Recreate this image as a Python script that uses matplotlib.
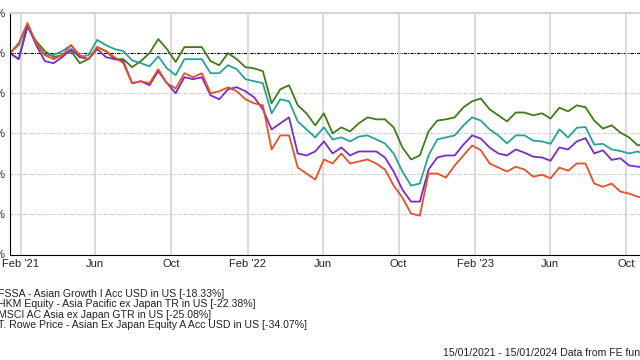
import matplotlib
matplotlib.use("Agg")
import matplotlib.pyplot as plt
import matplotlib.dates as mdates
import pandas as pd

plt.rcParams['font.family'] = ['Liberation Sans Narrow', 'Liberation Sans', 'DejaVu Sans']

# fortnightly points (% growth since 15/01/2021)
dates = pd.date_range('2021-01-15', periods=79, freq='14D')

fssa = [0, -1.5, 6.5, 3.0, 0.5, -1.0, -0.5, 0.5, -2.5, -1.5,
        1.5, 0.5, -1.5, -1.5, -3.5, -2.0, 0.0, 3.5, 1.0, -2.2,
        1.5, 1.5, 1.5, -2.0, -3.0, 0.0, -1.5, -3.5, -3.8, -4.5,
        -12.5, -9.0, -8.0, -13.0, -15.0, -18.0, -15.0, -20.0, -18.5, -19.5,
        -17.5, -16.0, -16.5, -16.5, -18.5, -23.5, -26.5, -25.5, -19.5, -16.8,
        -16.5, -16.0, -13.5, -12.0, -11.3, -14.0, -15.5, -17.0, -14.8, -14.8,
        -15.5, -15.0, -16.3, -13.6, -14.5, -13.0, -13.5, -16.8, -18.8, -18.0,
        -19.8, -21.0, -23.0, -22.5, -21.5, -20.0, -18.5, -17.5, -18.33]
hkm = [0, 2.0, 7.0, 2.5, -0.5, -0.5, 0.5, 2.0, -1.0, -0.5,
       3.3, 2.0, 1.0, 0.5, -1.8, -2.5, -3.3, -0.8, -3.8, -5.5,
       -1.5, -1.5, -1.5, -5.0, -5.0, -3.0, -4.0, -6.5, -7.0, -7.5,
       -15.0, -11.5, -12.0, -17.0, -19.0, -21.0, -18.5, -21.5, -21.0, -22.0,
       -20.8, -20.5, -21.5, -22.5, -25.0, -29.5, -33.0, -32.5, -25.5, -21.5,
       -21.0, -20.5, -18.0, -16.0, -16.8, -19.0, -20.5, -22.5, -20.5, -20.5,
       -21.8, -22.0, -22.6, -19.0, -21.0, -18.6, -18.4, -22.8, -22.6, -24.0,
       -24.4, -25.0, -24.5, -25.5, -25.0, -24.0, -22.5, -21.8, -22.38]
msci = [0, -1.5, 7.0, 2.0, -2.0, -2.5, -1.0, 1.0, -1.0, -1.5,
        1.0, -1.0, -1.5, -2.0, -7.5, -7.0, -8.0, -4.5, -7.5, -10.0,
        -6.0, -6.5, -6.0, -10.5, -11.5, -9.0, -8.5, -9.5, -11.0, -14.0,
        -19.0, -17.5, -16.0, -25.0, -25.5, -24.5, -22.0, -25.0, -23.5, -25.5,
        -24.5, -24.5, -24.5, -26.0, -29.5, -34.0, -37.0, -37.0, -29.0, -26.0,
        -25.5, -25.5, -22.8, -20.5, -21.3, -23.5, -25.0, -25.5, -24.0, -24.8,
        -25.8, -26.0, -26.8, -23.5, -24.0, -22.0, -21.2, -25.0, -24.2, -26.6,
        -26.2, -28.0, -28.3, -28.5, -28.0, -27.0, -25.5, -24.5, -25.08]
trowe = [0, 2.5, 7.5, 2.5, -0.5, -1.5, -0.5, 2.0, -0.5, -1.5,
         1.5, 0.5, -1.0, -2.5, -7.5, -7.0, -7.5, -4.0, -7.5, -8.8,
         -5.0, -6.0, -5.0, -10.0, -9.5, -8.5, -9.5, -11.5, -12.5, -13.0,
         -24.0, -20.5, -20.5, -28.5, -30.0, -31.5, -26.5, -27.5, -25.0, -27.5,
         -27.0, -26.5, -27.5, -29.0, -33.0, -36.0, -40.0, -40.5, -30.0, -30.0,
         -31.0, -28.0, -25.5, -23.0, -24.2, -27.5, -28.5, -29.5, -28.3, -29.0,
         -30.8, -30.3, -31.2, -28.5, -29.3, -27.5, -27.5, -32.5, -33.3, -32.5,
         -34.5, -35.0, -35.8, -36.0, -35.5, -35.0, -34.0, -33.5, -34.07]

names = ["FSSA - Asian Growth I Acc USD in US [-18.33%]",
         "HKM Equity - Asia Pacific ex Japan TR in US [-22.38%]",
         "MSCI AC Asia ex Japan GTR in US [-25.08%]",
         "T. Rowe Price - Asian Ex Japan Equity A Acc USD in US [-34.07%]"]
colors = ['#3f7c16', '#27a395', '#7b2cc6', '#e8502a']
yticks = [10, 0, -10, -20, -30, -40, -50]

fig = plt.figure(figsize=(6.4, 3.6), dpi=100)
# chart is wider than the picture: right part is cut off like the original
ax = fig.add_axes([10 / 640, 105 / 360, 682 / 640, 242 / 360])

for vals, c in zip([fssa, hkm, msci, trowe], colors):
    ax.plot(dates, vals, color=c, lw=1.3, solid_joinstyle='round')

ax.axhline(0, color='black', lw=0.8, ls=(0, (3, 1, 1, 1)), zorder=1)
for y in [-10, -20, -30, -40]:
    ax.axhline(y, color='#cccccc', lw=0.8, ls=(0, (3, 1, 1, 1)), zorder=0)

ax.set_xlim(pd.Timestamp('2021-01-15'), pd.Timestamp('2024-01-15'))
ax.set_ylim(-50.3, 10)
ax.xaxis.set_major_locator(mdates.MonthLocator(bymonth=[2, 6, 10]))
ticks = ax.get_xticks()
labels = []
for t in mdates.num2date(ticks):
    labels.append(t.strftime("%b '%y") if t.month == 2 else t.strftime("%b"))
ax.set_xticks(ticks, labels)
ax.grid(axis='x', color='#d4d4d4', lw=1.2)
ax.set_yticks(yticks, [f"{v}%" for v in yticks])
ax.tick_params(length=0, labelsize=8, colors='#222222', pad=3)

ax.spines['left'].set_color('black')
ax.spines['bottom'].set_color('black')
ax.spines['top'].set_color('#d4d4d4')
ax.spines['top'].set_linewidth(1.5)
ax.spines['right'].set_visible(False)

for k, n in enumerate(names):
    fig.text(-0.003, 1 - (294 + k * 10.4) / 360, n, fontsize=7.6, va='center',
             ha='left', color='#222222')
fig.text(443 / 640, 1 - 353 / 360, "15/01/2021 - 15/01/2024 Data from FE fundinfo2024",
         fontsize=7.6, va='center', ha='left', color='#222222')

fig.savefig('out.png', dpi=100)
